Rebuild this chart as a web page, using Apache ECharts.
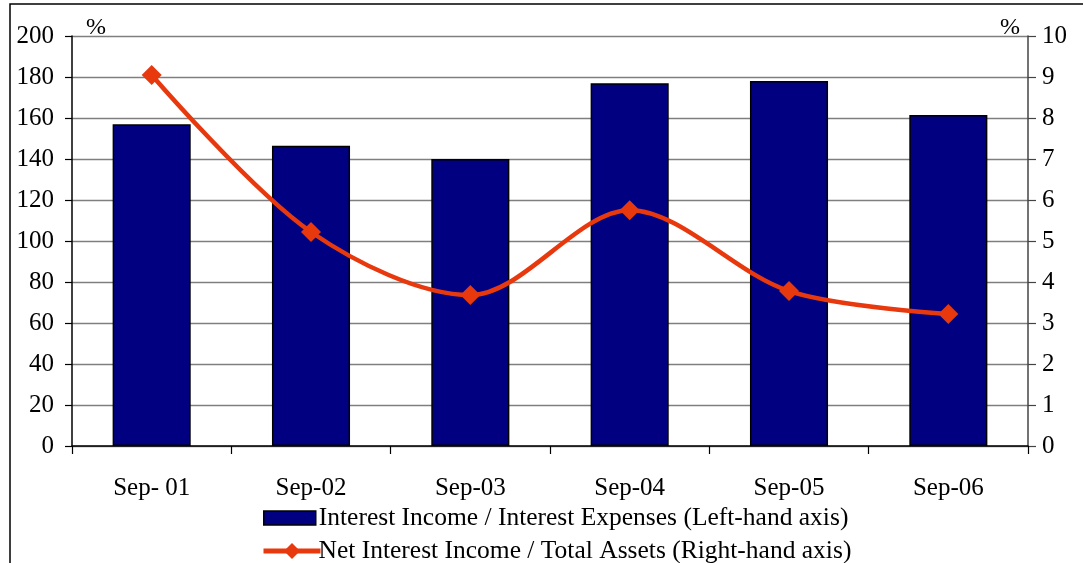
<!DOCTYPE html>
<html>
<head>
<meta charset="utf-8">
<script src="https://cdn.jsdelivr.net/npm/echarts@6/dist/echarts.min.js"></script>
<style>
  html, body { margin: 0; padding: 0; background: #fff; }
  #chart { width: 1083px; height: 563px; }
</style>
</head>
<body>
<div id="chart"></div>
<script>
// Periods on the category axis
const categories = ['Sep- 01', 'Sep-02', 'Sep-03', 'Sep-04', 'Sep-05', 'Sep-06'];
// Interest income / interest expenses, % (left axis)
const incomeToExpenses = [157, 146.5, 140, 177, 178, 161.5];
// Net interest income / total assets, % (right axis)
const netIncomeToAssets = [9.05, 5.22, 3.68, 5.75, 3.78, 3.22];

const barName = 'Interest Income / Interest Expenses (Left-hand axis)';
const lineName = 'Net Interest Income / Total Assets (Right-hand axis)';

const FONT = 'Liberation Serif';
const LINE_COLOR = '#E8380D';
const BAR_COLOR = '#000080';

const legendText = { fontFamily: FONT, fontSize: 25.5, color: '#000' };

const chart = echarts.init(document.getElementById('chart'), null, { renderer: 'canvas' });

chart.setOption({
  animation: false,
  backgroundColor: '#ffffff',
  textStyle: { fontFamily: FONT, color: '#000' },
  grid: { left: 72, right: 55, top: 36, bottom: 117, containLabel: false },
  graphic: [{
    type: 'rect',
    shape: { x: 10, y: 4, width: 1200, height: 700 },
    style: { fill: 'none', stroke: '#000', lineWidth: 1.5 },
    silent: true,
    z: -10
  }],
  legend: [{
    left: 258,
    top: 500,
    itemWidth: 52,
    itemHeight: 14,
    textStyle: Object.assign({ padding: [0, 0, 0, -2] }, legendText),
    data: [{ name: barName, icon: 'rect', itemStyle: { borderColor: '#000', borderWidth: 1.5 } }]
  }, {
    left: 256,
    top: 533,
    itemWidth: 57,
    itemHeight: 20,
    textStyle: Object.assign({ padding: [0, 0, 0, -7] }, legendText),
    data: [{ name: lineName, lineStyle: { width: 5 } }]
  }],
  xAxis: {
    type: 'category',
    data: categories,
    axisLine: { lineStyle: { color: '#000', width: 1.5 } },
    axisTick: { show: true, interval: 0, length: 8, lineStyle: { color: '#000', width: 1.2 } },
    axisLabel: { fontFamily: FONT, fontSize: 25, color: '#000', margin: 30, interval: 0 }
  },
  yAxis: [{
    type: 'value',
    min: 0, max: 200, interval: 20,
    name: '%',
    nameLocation: 'end',
    nameGap: -4,
    nameTextStyle: { fontFamily: FONT, fontSize: 24, color: '#000', align: 'left', padding: [0, 0, 0, 14] },
    axisLine: { show: true, lineStyle: { color: '#000', width: 1.5 } },
    axisTick: { show: true, length: 7, lineStyle: { color: '#000', width: 1.2 } },
    axisLabel: { fontFamily: FONT, fontSize: 25, color: '#000', margin: 18 },
    splitLine: { show: true, lineStyle: { color: '#7f7f7f', width: 1.3 } }
  }, {
    type: 'value',
    min: 0, max: 10, interval: 1,
    position: 'right',
    name: '%',
    nameLocation: 'end',
    nameGap: -4,
    nameTextStyle: { fontFamily: FONT, fontSize: 24, color: '#000', align: 'right', padding: [0, 8, 0, 0] },
    axisLine: { show: true, lineStyle: { color: '#444', width: 1.5 } },
    axisTick: { show: true, length: 8, lineStyle: { color: '#444', width: 1.2 } },
    axisLabel: { fontFamily: FONT, fontSize: 25, color: '#000', margin: 14 },
    splitLine: { show: false }
  }],
  series: [{
    name: barName,
    type: 'bar',
    yAxisIndex: 0,
    data: incomeToExpenses,
    barCategoryGap: '51%',
    itemStyle: { color: BAR_COLOR, borderColor: '#000', borderWidth: 1.5 }
  }, {
    name: lineName,
    type: 'line',
    yAxisIndex: 1,
    data: netIncomeToAssets,
    smooth: 0.32,
    symbol: 'diamond',
    symbolSize: 20,
    itemStyle: { color: LINE_COLOR },
    lineStyle: { color: LINE_COLOR, width: 4.5 },
    z: 5
  }]
});
</script>
</body>
</html>
